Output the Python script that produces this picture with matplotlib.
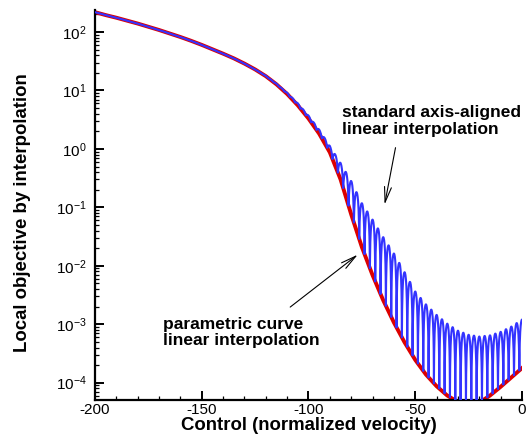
import numpy as np
import matplotlib
matplotlib.use('Agg')
import matplotlib.pyplot as plt
from matplotlib.ticker import LogLocator, MultipleLocator, FixedLocator

plt.rcParams['font.family'] = 'Liberation Sans'
plt.rcParams['mathtext.fontset'] = 'custom'
plt.rcParams['mathtext.rm'] = 'Liberation Sans'
plt.rcParams['mathtext.it'] = 'Liberation Sans'
plt.rcParams['mathtext.default'] = 'regular'
plt.rcParams['axes.unicode_minus'] = False

# control values (normalized velocity)
ctrl = [-200, -195, -190, -185, -180, -175, -170, -165, -160, -155, -150,
        -145, -140, -135, -130, -125, -120, -115, -110, -105, -100,
        -95, -90, -85, -80, -75, -70, -65, -60, -55, -50,
        -45, -40, -35, -30, -25, -20, -15, -10, -5, 0]
# log10 of objective, parametric curve linear interpolation
obj_param_log = [2.34, 2.29, 2.245, 2.195, 2.145, 2.09, 2.035, 1.975, 1.915, 1.85, 1.78,
                 1.705, 1.63, 1.55, 1.46, 1.36, 1.245, 1.105, 0.94, 0.745, 0.52,
                 0.26, -0.06, -0.52, -1.12, -1.68, -2.16, -2.59, -2.97, -3.31, -3.61,
                 -3.86, -4.06, -4.22, -4.33, -4.38, -4.34, -4.22, -4.07, -3.91, -3.75]
# log10 of objective halfway between nodes, standard axis-aligned interpolation
obj_axis_peak_log = [2.34, 2.29, 2.245, 2.195, 2.145, 2.09, 2.035, 1.975, 1.915, 1.85, 1.78,
                     1.705, 1.63, 1.55, 1.46, 1.36, 1.25, 1.115, 0.96, 0.78, 0.57,
                     0.33, 0.05, -0.24, -0.55, -0.93, -1.21, -1.51, -1.79, -2.11, -2.44,
                     -2.66, -2.84, -2.99, -3.11, -3.18, -3.21, -3.19, -3.13, -3.04, -2.92]
node_spacing = 2.5
node_offset = 1.25

ctrl = np.array(ctrl, dtype=float)
obj_param_log = np.array(obj_param_log)
obj_axis_peak_log = np.array(obj_axis_peak_log)

# axis-aligned interpolation: exact at the nodes, overshoots in between
nodes = np.arange(-200 - node_offset, 0 + node_spacing, node_spacing)
bx, by = [], []
for a, b in zip(nodes[:-1], nodes[1:]):
    t = np.linspace(0, 1, 25)
    xs = a + t * (b - a)
    base = 10 ** np.interp(xs, ctrl, obj_param_log)
    mid = 0.5 * (a + b)
    amp = 10 ** np.interp(mid, ctrl, obj_axis_peak_log) - 10 ** np.interp(mid, ctrl, obj_param_log)
    bx.append(xs)
    by.append(base + max(amp, 0) * 4 * t * (1 - t))
bx = np.concatenate(bx)
by = np.concatenate(by)

fig = plt.figure(figsize=(5.26, 4.36), dpi=100)
ax = fig.add_axes([0.1806, 0.0826, 0.8118, 0.8944])

ax.plot(ctrl, 10 ** obj_param_log, color='#dd0000', lw=2.8, solid_joinstyle='round', zorder=2)
ax.plot(bx, by, color='#3333ff', lw=1.5, zorder=3)

ax.set_yscale('log')
ax.set_xlim(-200, 0)
ax.set_ylim(5.06e-5, 238)

for s in ['top', 'right']:
    ax.spines[s].set_visible(False)
for s in ['left', 'bottom']:
    ax.spines[s].set_linewidth(1.6)

ax.xaxis.set_major_locator(MultipleLocator(50))
ax.xaxis.set_minor_locator(MultipleLocator(10))
ax.yaxis.set_major_locator(FixedLocator([1e-4, 1e-3, 1e-2, 1e-1, 1, 10, 100]))
ax.yaxis.set_minor_locator(LogLocator(base=10, subs=np.arange(2, 10), numticks=20))
ax.tick_params(which='major', direction='in', length=6.5, width=1.4, labelsize=11)
ax.tick_params(which='minor', direction='in', length=3, width=0.9)
ax.tick_params(axis='x', which='major', pad=2)
ax.tick_params(axis='y', which='major', pad=6)

ax.set_xlabel('Control (normalized velocity)', fontsize=13.4, fontweight='bold', labelpad=0)
ax.set_ylabel('Local objective by interpolation', fontsize=13.4, fontweight='bold', labelpad=13)
ax.yaxis.set_label_coords(-0.15, 0.48)

ax.text(-168.2, 7.2e-4, 'parametric curve\nlinear interpolation', fontsize=12.5,
        fontweight='bold', linespacing=1.1, va='center', ha='left')
ax.annotate('', xy=(-75.9, 1.66e-2), xytext=(-109.6, 1.84e-3),
            arrowprops=dict(arrowstyle='->,head_length=1.1,head_width=0.25', color='black', lw=0.8))

ax.text(-84.3, 3.0, 'standard axis-aligned\nlinear interpolation', fontsize=12.5,
        fontweight='bold', linespacing=1.1, va='center', ha='left')
ax.annotate('', xy=(-64.6, 0.10), xytext=(-59.0, 1.17),
            arrowprops=dict(arrowstyle='->,head_length=1.1,head_width=0.25', color='black', lw=0.8))

fig.savefig('out.png', dpi=100)
